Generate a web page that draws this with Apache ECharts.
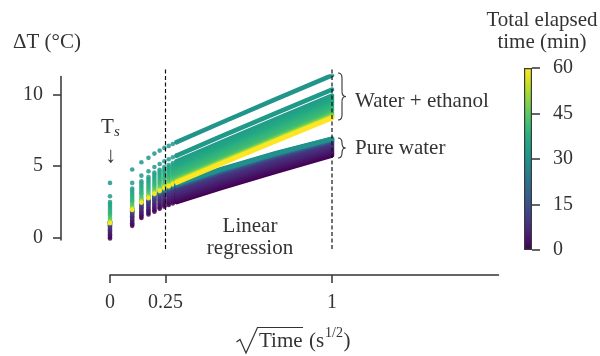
<!DOCTYPE html>
<html><head><meta charset="utf-8">
<script src="https://cdn.jsdelivr.net/npm/echarts@6/dist/echarts.min.js"></script>
<style>html,body{margin:0;padding:0;background:#fff}#c{width:600px;height:356px}</style>
</head><body><div id="c"></div>
<script>
// sqrt(time) of the sampled instants (s^1/2): first ten are the discrete early samples, then points along the dense tail
const sqrtTime = [0, 0.1, 0.1414, 0.1732, 0.2, 0.2236, 0.2449, 0.2646, 0.2828, 0.3, 0.5, 0.75, 1.0];
const nDots = 10;
const xTicks = [0, 0.25, 1];
const xTickLabels = ['0', '0.25', '1'];
const yTicks = [0, 5, 10];
const cbTicks = [0, 15, 30, 45, 60];
const regressionBounds = [0.25, 1];

// Pure water runs: elapsed time (min) and ΔT (°C) at each sqrtTime
const pureWaterTimes = [0, 1, 2, 3, 4, 5, 6, 7, 8, 9, 10, 12, 14, 17, 20, 23, 26, 30];
const pureWaterDT = [
  [-0.08, 0.80, 1.35, 1.60, 1.80, 2.00, 2.15, 2.27, 2.38, 2.48, 3.45, 4.62, 5.75],
  [0.01, 0.90, 1.45, 1.70, 1.90, 2.10, 2.25, 2.37, 2.48, 2.58, 3.56, 4.72, 5.84],
  [0.11, 0.99, 1.54, 1.80, 2.00, 2.20, 2.35, 2.47, 2.58, 2.68, 3.66, 4.83, 5.94],
  [0.20, 1.09, 1.64, 1.89, 2.10, 2.29, 2.45, 2.57, 2.68, 2.79, 3.77, 4.93, 6.03],
  [0.30, 1.18, 1.73, 1.99, 2.19, 2.39, 2.54, 2.67, 2.79, 2.89, 3.88, 5.04, 6.13],
  [0.39, 1.28, 1.83, 2.09, 2.29, 2.49, 2.64, 2.77, 2.89, 2.99, 3.98, 5.14, 6.22],
  [0.49, 1.38, 1.93, 2.19, 2.39, 2.59, 2.74, 2.87, 2.99, 3.09, 4.09, 5.24, 6.32],
  [0.58, 1.47, 2.02, 2.28, 2.49, 2.68, 2.84, 2.97, 3.09, 3.20, 4.19, 5.35, 6.41],
  [0.66, 1.56, 2.11, 2.37, 2.57, 2.77, 2.92, 3.06, 3.18, 3.29, 4.29, 5.44, 6.49],
  [0.75, 1.64, 2.19, 2.45, 2.66, 2.85, 3.01, 3.15, 3.27, 3.38, 4.38, 5.53, 6.58],
  [0.82, 1.71, 2.26, 2.53, 2.73, 2.93, 3.08, 3.22, 3.35, 3.45, 4.46, 5.61, 6.65],
  [0.88, 1.77, 2.32, 2.59, 2.80, 2.99, 3.15, 3.28, 3.41, 3.52, 4.53, 5.67, 6.71],
  [0.93, 1.83, 2.38, 2.65, 2.86, 3.05, 3.21, 3.35, 3.47, 3.58, 4.59, 5.74, 6.76],
  [0.98, 1.88, 2.43, 2.70, 2.91, 3.10, 3.26, 3.40, 3.52, 3.63, 4.65, 5.79, 6.81],
  [1.02, 1.92, 2.47, 2.73, 2.94, 3.13, 3.29, 3.43, 3.56, 3.67, 4.69, 5.83, 6.85],
  [1.05, 1.95, 2.50, 2.77, 2.98, 3.17, 3.33, 3.47, 3.60, 3.71, 4.73, 5.87, 6.88],
  [1.08, 1.98, 2.53, 2.80, 3.01, 3.20, 3.36, 3.50, 3.63, 3.74, 4.75, 5.89, 6.91],
  [1.10, 2.00, 2.55, 2.82, 3.03, 3.22, 3.38, 3.52, 3.65, 3.76, 4.78, 5.92, 6.93]
];

// Water + ethanol runs
const ethanolTimes = [31, 32, 33, 34, 35, 36, 37, 38, 39, 40, 42, 45, 49, 53, 57, 60];
const ethanolDT = [
  [3.82, 4.76, 5.27, 5.58, 5.88, 6.09, 6.28, 6.42, 6.56, 6.68, 8.05, 9.73, 11.38],
  [2.88, 3.82, 4.33, 4.64, 4.94, 5.15, 5.34, 5.48, 5.62, 5.74, 7.09, 8.75, 10.38],
  [2.48, 3.42, 3.93, 4.24, 4.54, 4.75, 4.94, 5.08, 5.22, 5.34, 6.67, 8.33, 9.95],
  [2.34, 3.28, 3.79, 4.10, 4.40, 4.61, 4.80, 4.94, 5.08, 5.20, 6.53, 8.18, 9.80],
  [2.19, 3.13, 3.64, 3.95, 4.25, 4.46, 4.65, 4.79, 4.93, 5.05, 6.38, 8.03, 9.65],
  [2.05, 2.99, 3.50, 3.81, 4.11, 4.32, 4.51, 4.65, 4.79, 4.91, 6.24, 7.88, 9.50],
  [1.91, 2.85, 3.36, 3.67, 3.97, 4.18, 4.37, 4.51, 4.65, 4.77, 6.09, 7.74, 9.35],
  [1.77, 2.71, 3.22, 3.53, 3.83, 4.04, 4.23, 4.37, 4.51, 4.63, 5.96, 7.60, 9.21],
  [1.65, 2.59, 3.10, 3.41, 3.71, 3.92, 4.11, 4.25, 4.39, 4.51, 5.83, 7.47, 9.08],
  [1.53, 2.47, 2.98, 3.29, 3.59, 3.80, 3.99, 4.13, 4.27, 4.39, 5.71, 7.35, 8.96],
  [1.36, 2.30, 2.81, 3.12, 3.42, 3.63, 3.82, 3.96, 4.10, 4.22, 5.54, 7.17, 8.78],
  [1.22, 2.16, 2.67, 2.98, 3.28, 3.49, 3.68, 3.82, 3.96, 4.08, 5.39, 7.03, 8.63],
  [1.12, 2.06, 2.57, 2.88, 3.18, 3.39, 3.58, 3.72, 3.86, 3.98, 5.30, 6.93, 8.53],
  [1.07, 2.01, 2.52, 2.83, 3.13, 3.34, 3.53, 3.67, 3.81, 3.93, 5.24, 6.87, 8.47],
  [1.02, 1.96, 2.47, 2.78, 3.08, 3.29, 3.48, 3.62, 3.76, 3.88, 5.19, 6.82, 8.42],
  [0.98, 1.92, 2.43, 2.74, 3.04, 3.25, 3.44, 3.58, 3.72, 3.84, 5.15, 6.78, 8.38]
];

const VIR = ['#440154','#482475','#414487','#355f8d','#2a788e','#21918c','#22a884','#44bf70','#7ad151','#bddf26','#fde725'];
function hex(h){return [parseInt(h.slice(1,3),16),parseInt(h.slice(3,5),16),parseInt(h.slice(5,7),16)];}
function viridis(v){
  v = Math.max(0, Math.min(1, v));
  const p = v * 10, i = Math.min(9, Math.floor(p)), f = p - i;
  const a = hex(VIR[i]), b = hex(VIR[i+1]);
  return 'rgb(' + a.map((c,k)=>Math.round(c + (b[k]-c)*f)).join(',') + ')';
}
const FONT = '"Liberation Serif","DejaVu Serif","Times New Roman",serif';
const INK = '#333';

const curves = [];
pureWaterTimes.forEach((t,i)=>curves.push({t, v: pureWaterDT[i]}));
ethanolTimes.forEach((t,i)=>curves.push({t, v: ethanolDT[i]}));

const series = [];
const dotData = [];
curves.forEach(c => { for (let k = 0; k < nDots; k++) dotData.push([sqrtTime[k], c.v[k], c.t]); });
series.push({
  type: 'scatter', xAxisIndex: 0, yAxisIndex: 0, data: dotData, symbolSize: 4.6,
  itemStyle: { color: p => viridis(p.data[2] / 60), opacity: 0.85 }, silent: true, animation: false
});
curves.forEach(c => series.push({
  type: 'line', xAxisIndex: 0, yAxisIndex: 0,
  data: sqrtTime.slice(nDots - 1).map((x, k) => [x, c.v[nDots - 1 + k]]),
  smooth: false, symbol: 'none', showSymbol: false,
  lineStyle: { width: 4.6, color: viridis(c.t / 60), cap: 'round', join: 'round' }, silent: true, animation: false
}));
// dashed bounds of the linear-regression window
regressionBounds.forEach(b => series.push({
  type: 'line', xAxisIndex: 2, yAxisIndex: 2, data: [[b, 0], [b, 1]], symbol: 'none',
  lineStyle: { width: 1.2, color: '#111', type: [4, 2.5] }, silent: true, animation: false, z: 5
}));
// colorbar
series.push({
  type: 'bar', xAxisIndex: 1, yAxisIndex: 1, data: [60], barWidth: '100%', silent: true, animation: false,
  itemStyle: {
    color: { type: 'linear', x: 0, y: 1, x2: 0, y2: 0, colorStops: VIR.map((c, i) => ({ offset: i / 10, color: c })) },
    borderColor: '#3a3a3a', borderWidth: 1.2
  }
});

const axisLineStyle = { color: INK, width: 1.5 };
const labelStyle = { fontFamily: FONT, fontSize: 20, color: INK };

function brace(x, y0, y1, tipX) {
  const ym = (y0 + y1) / 2, r = Math.min(5, (y1 - y0) / 4);
  const sx = x + 4;
  const segs = [
    { x1: x, y1: y0, x2: sx, y2: y0 + r, cpx1: sx, cpy1: y0 },
    { x1: sx, y1: ym - r, x2: tipX, y2: ym, cpx1: sx, cpy1: ym },
    { x1: tipX, y1: ym, x2: sx, y2: ym + r, cpx1: sx, cpy1: ym },
    { x1: sx, y1: y1 - r, x2: x, y2: y1, cpx1: sx, cpy1: y1 }
  ];
  const els = segs.map(s => ({ type: 'bezierCurve', shape: s, style: { stroke: INK, lineWidth: 1.1, fill: null } }));
  els.push({ type: 'line', shape: { x1: sx, y1: y0 + r, x2: sx, y2: ym - r }, style: { stroke: INK, lineWidth: 1.1 } });
  els.push({ type: 'line', shape: { x1: sx, y1: ym + r, x2: sx, y2: y1 - r }, style: { stroke: INK, lineWidth: 1.1 } });
  return els;
}
function txt(x, y, text, font, align) {
  return { type: 'text', x, y, style: { text, font: font + ' ' + FONT, fill: INK, align: align || 'center', verticalAlign: 'middle' } };
}

const option = {
  backgroundColor: '#fff',
  animation: false,
  grid: [
    { left: 110, top: 76.5, width: 388.5, height: 163.6 },
    { left: 524, top: 68, width: 8, height: 182 },
    { left: 110, top: 68, width: 388.5, height: 181 }
  ],
  xAxis: [
    { type: 'value', gridIndex: 0, min: 0, max: 1.75, offset: 35,
      axisLine: { show: true, onZero: false, lineStyle: axisLineStyle },
      axisTick: { show: true, customValues: xTicks, length: 8, lineStyle: axisLineStyle },
      axisLabel: { customValues: xTicks, formatter: v => xTickLabels[xTicks.indexOf(v)], margin: 18, ...labelStyle },
      splitLine: { show: false } },
    { type: 'category', gridIndex: 1, data: [''], show: false },
    { type: 'value', gridIndex: 2, min: 0, max: 1.75, show: false }
  ],
  yAxis: [
    { type: 'value', gridIndex: 0, min: -0.2, max: 11.3, offset: 49,
      axisLine: { show: true, onZero: false, lineStyle: axisLineStyle },
      axisTick: { show: true, customValues: yTicks, length: 8, lineStyle: axisLineStyle },
      axisLabel: { customValues: yTicks, margin: 18, ...labelStyle },
      splitLine: { show: false } },
    { type: 'value', gridIndex: 1, min: 0, max: 60, interval: 15, position: 'right',
      axisLine: { show: false, onZero: false },
      axisTick: { show: true, length: 8, lineStyle: axisLineStyle },
      axisLabel: { margin: 21, ...labelStyle },
      splitLine: { show: false } },
    { type: 'value', gridIndex: 2, min: 0, max: 1, show: false }
  ],
  series,
  graphic: [
    txt(47, 42, 'ΔT (°C)', '21px'),
    txt(107.5, 127, 'T', '21px'),
    txt(117, 132, 's', 'italic 15px'),
    txt(110.7, 156, '↓', '22px'),
    txt(250, 226, 'Linear', '21px'),
    txt(250, 248, 'regression', '21px'),
    txt(355, 101, 'Water + ethanol', '21px', 'left'),
    txt(355, 148, 'Pure water', '21px', 'left'),
    ...brace(338, 73, 120, 346),
    ...brace(338, 138, 158, 345.5),
    txt(542, 20, 'Total elapsed', '21px'),
    txt(542, 42, 'time (min)', '21px'),
    { type: 'polyline', shape: { points: [[236.5, 342], [240, 339.5], [246, 353], [257.5, 327.5], [303, 327.5]] }, style: { stroke: INK, lineWidth: 1.2, fill: null } },
    txt(259, 341, 'Time', '21px', 'left'),
    txt(309, 341, '(s', '21px', 'left'),
    txt(325, 333, '1/2', '14px', 'left'),
    txt(343.5, 341, ')', '21px', 'left')
  ]
};
const chart = echarts.init(document.getElementById('c'), null, { renderer: 'canvas' });
chart.setOption(option);
</script></body></html>
